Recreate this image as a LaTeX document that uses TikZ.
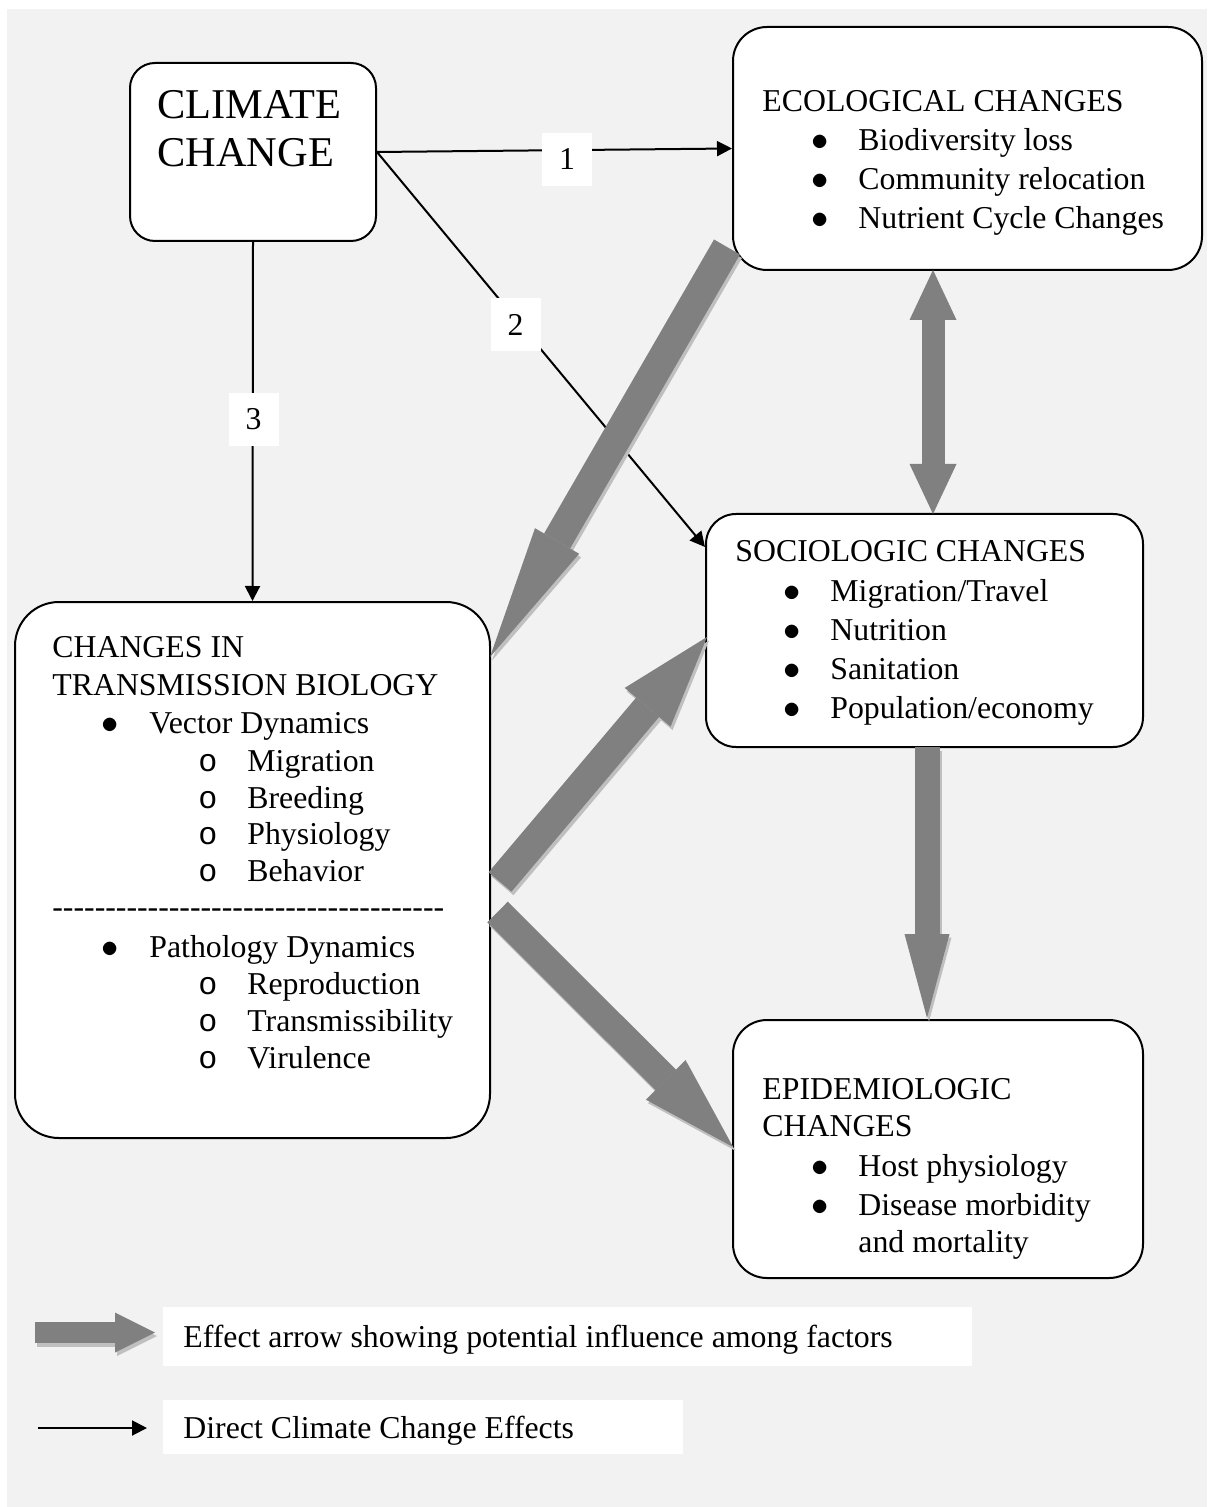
\documentclass[tikz,border=0pt]{standalone}
\usepackage{fontspec}
\setmainfont{Liberation Serif}
\newfontfamily\monof{Liberation Mono}
\usetikzlibrary{arrows.meta,fit,calc}
\definecolor{bgc}{HTML}{F2F2F2}
\definecolor{effc}{HTML}{808080}
\definecolor{effsh}{HTML}{BFBFBF}
\newcommand\bdot[2]{\makebox[#1][l]{\hspace*{-0.5pt}\smash{$\bullet$}}#2}
\newcommand\subitm[2]{\makebox[#1][l]{\monof o}#2}
\newcommand\txtline[4]{\node[txt] (#1) at (#2,#3) {#4};}
\begin{document}
\begin{tikzpicture}[x=0.5pt,y=-0.5pt,
  box/.style={draw, line width=1pt, fill=white, inner sep=0pt},
  txt/.style={anchor=base west, inner sep=0pt, font=\fontsize{15.9}{19}\selectfont},
  bigtxt/.style={anchor=base west, inner sep=0pt, font=\fontsize{21.2}{24}\selectfont},
  direct/.style={line width=1pt, -{Triangle[length=7.5pt,width=7.5pt]}},
  num/.style={fill=white, minimum width=25pt, minimum height=26.5pt, inner sep=0pt, font=\fontsize{15.9}{19}\selectfont},
  effarrow/.style n args={3}{line width=#1, draw=effc, -{Triangle[width=#2,length=#3,line width=0pt]}},
  effshad/.style n args={3}{line width=#1, draw=effsh, transform canvas={xshift=1pt,yshift=-1.75pt}, -{Triangle[width=#2,length=#3,line width=0pt]}},
  legbox/.style={fill=white, inner sep=0pt}]
\useasboundingbox (0,0) rectangle (1207,1507);
\fill[bgc] (7,9) rectangle (1207,1507);

% boxes
\node[box, rounded corners=12.5pt, fit={(130,63) (376,241)}] (cc) {};
\node[box, rounded corners=17pt, fit={(733,27) (1202,270)}] (eco) {};
\node[box, rounded corners=15pt, fit={(706,514) (1143,747)}] (soc) {};
\node[box, rounded corners=22pt, fit={(15,602) (490,1138)}] (trn) {};
\node[box, rounded corners=17pt, fit={(733,1020) (1143,1278)}] (epi) {};
\node[legbox, fit={(163,1307) (972,1366)}] (leg1) {};
\node[legbox, fit={(163,1400) (683,1454)}] (leg2) {};

% direct arrows
\coordinate (s2) at (705,547);
\draw[direct] (cc.east) -- (eco.west);
\draw[direct] (cc.east) -- (s2);
\draw[direct] (cc.south) -- (trn.north);
\node[num] (n1) at (567,159.5) {1};
\node[num] (n2) at (515.5,324.5) {2};
\node[num] (n3) at (253.5,419.5) {3};

% effect arrows
\coordinate (aS) at (727,247);   \coordinate (aE) at (490,657);
\coordinate (bS) at (500,882);   \coordinate (bE) at (707,637);
\coordinate (cS) at (497.5,912); \coordinate (cE) at (733,1147);
\coordinate (dS) at (933,270);   \coordinate (dE) at (933,514);
\coordinate (eS) at (927,747);   \coordinate (eE) at (927,1018);
\coordinate (lS) at (35,1332.5); \coordinate (lE) at (155,1332.5);
\coordinate (tS) at (38,1428);   \coordinate (tE) at (147,1428);

\draw[effshad={15pt}{25.5pt}{67pt}] (aS) -- (aE);
\draw[effarrow={15pt}{25.5pt}{67pt}] (aS) -- (aE);
\draw[effshad={15pt}{30pt}{46pt}] (bS) -- (bE);
\draw[effarrow={15pt}{30pt}{46pt}] (bS) -- (bE);
\draw[effshad={14.5pt}{28pt}{47.5pt}] (cS) -- (cE);
\draw[effarrow={14.5pt}{28pt}{47.5pt}] (cS) -- (cE);
\draw[line width=11.5pt, draw=effc, {Triangle[width=23.5pt,length=25pt,line width=0pt]}-{Triangle[width=23.5pt,length=25pt,line width=0pt]}] (dS) -- (dE);
\draw[effshad={12.5pt}{22.5pt}{42pt}] (eS) -- (eE);
\draw[effarrow={12.5pt}{22.5pt}{42pt}] (eS) -- (eE);
\draw[effshad={10.5pt}{20pt}{20pt}] (lS) -- (lE);
\draw[effarrow={10.5pt}{20pt}{20pt}] (lS) -- (lE);
\draw[direct] (tS) -- (tE);

% texts
\node[bigtxt] (cc1) at (157,119) {CLIMATE};
\node[bigtxt] (cc2) at (157,167) {CHANGE};

\txtline{ecoT}{762}{112}{ECOLOGICAL CHANGES}
\txtline{eco1}{812}{151}{\bdot{23pt}{Biodiversity loss}}
\txtline{eco2}{812}{190}{\bdot{23pt}{Community relocation}}
\txtline{eco3}{812}{229}{\bdot{23pt}{Nutrient Cycle Changes}}

\txtline{socT}{735}{561}{SOCIOLOGIC CHANGES}
\txtline{soc1}{784}{601}{\bdot{23pt}{Migration/Travel}}
\txtline{soc2}{784}{640}{\bdot{23pt}{Nutrition}}
\txtline{soc3}{784}{679}{\bdot{23pt}{Sanitation}}
\txtline{soc4}{784}{718}{\bdot{23pt}{Population/economy}}

\txtline{trT1}{52}{657}{CHANGES IN}
\txtline{trT2}{52}{695}{TRANSMISSION BIOLOGY}
\txtline{tr1}{102}{733}{\bdot{23.5pt}{Vector Dynamics}}
\txtline{tr2}{198}{771}{\subitm{24.5pt}{Migration}}
\txtline{tr3}{198}{808}{\subitm{24.5pt}{Breeding}}
\txtline{tr4}{198}{844}{\subitm{24.5pt}{Physiology}}
\txtline{tr5}{198}{881}{\subitm{24.5pt}{Behavior}}
\txtline{trD}{52}{917}{\foreach \i in {1,...,37}{-\kern0pt}}
\txtline{tr6}{102}{957}{\bdot{23.5pt}{Pathology Dynamics}}
\txtline{tr7}{198}{994}{\subitm{24.5pt}{Reproduction}}
\txtline{tr8}{198}{1031}{\subitm{24.5pt}{Transmissibility}}
\txtline{tr9}{198}{1068}{\subitm{24.5pt}{Virulence}}

\txtline{epT1}{762}{1099}{EPIDEMIOLOGIC}
\txtline{epT2}{762}{1136}{CHANGES}
\txtline{ep1}{812}{1176}{\bdot{23pt}{Host physiology}}
\txtline{ep2}{812}{1215}{\bdot{23pt}{Disease morbidity}}
\txtline{ep3}{858}{1252}{and mortality}

\txtline{lt1}{183}{1347}{Effect arrow showing potential influence among factors}
\txtline{lt2}{183}{1438}{Direct Climate Change Effects}
\end{tikzpicture}
\end{document}
